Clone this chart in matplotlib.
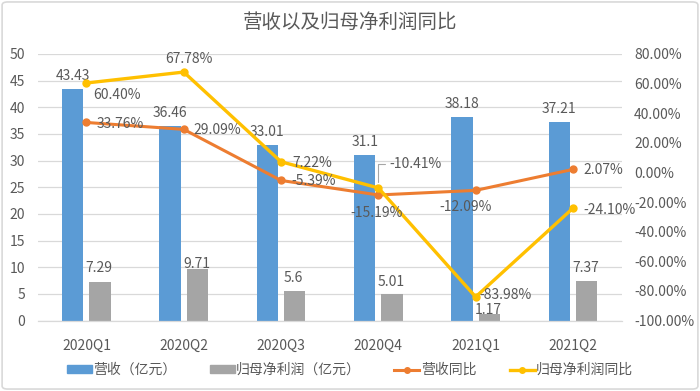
import matplotlib
matplotlib.use("Agg")
import matplotlib.pyplot as plt
from matplotlib.patches import FancyBboxPatch, Patch
from matplotlib.lines import Line2D
import numpy as np

plt.rcParams['font.family'] = ['Noto Sans CJK SC', 'DejaVu Sans']

# ---- data ----
categories = ['2020Q1', '2020Q2', '2020Q3', '2020Q4', '2021Q1', '2021Q2']
revenue = [43.43, 36.46, 33.01, 31.1, 38.18, 37.21]          # 营收（亿元）
net_profit = [7.29, 9.71, 5.6, 5.01, 1.17, 7.37]             # 归母净利润（亿元）
revenue_yoy = [33.76, 29.09, -5.39, -15.19, -12.09, 2.07]    # 营收同比 (%)
profit_yoy = [60.40, 67.78, 7.22, -10.41, -83.98, -24.10]    # 归母净利润同比 (%)
left_ticks = [0, 5, 10, 15, 20, 25, 30, 35, 40, 45, 50]
right_ticks = [-100, -80, -60, -40, -20, 0, 20, 40, 60, 80]

title = '营收以及归母净利润同比'
legend_labels = ['营收（亿元）', '归母净利润（亿元）', '营收同比', '归母净利润同比']

# ---- styles ----
C_BLUE = '#5B9BD5'
C_GRAY = '#A5A5A5'
C_ORANGE = '#ED7D31'
C_YELLOW = '#FFC000'
C_TEXT = '#595959'
C_GRID = '#D9D9D9'
FS = 10

# label offsets in pixels (dx, dy, ha)
gray_dy = [13.5, 5, 12.5, 12.3, 4, 13]
orange_off = [(10, -1.6, 'left'), (10, -0.7, 'left'), (10, -1, 'left'),
              (-1.6, -18.3, 'center'), (-10, -16.6, 'center'), (10, -1, 'left')]
yellow_off = [(6.5, -12, 'left'), (5, 12.7, 'center'), (11, -1, 'left'),
              (11, 24, 'left'), (4, 2, 'left'), (10, -1.7, 'left')]

fig = plt.figure(figsize=(7, 3.91), dpi=100)
ax = fig.add_axes([0.054, 0.18, 0.834, 0.682])
ax2 = ax.twinx()

x = np.arange(len(categories))
w = 0.22
off = 0.141
ax.bar(x - off, revenue, w, color=C_BLUE, zorder=2)
ax.bar(x + off, net_profit, w, color=C_GRAY, zorder=2)

ax.set_xlim(-0.5, len(categories) - 0.5)
ax.set_ylim(0, 50)
ax.set_yticks(left_ticks)
ax.set_yticklabels([str(t) for t in left_ticks])
ax.set_xticks(x)
ax.set_xticklabels(categories)
ax.grid(axis='y', color=C_GRID, lw=0.9, zorder=0)
ax.set_axisbelow(True)
for s in ['top', 'left', 'right']:
    ax.spines[s].set_visible(False)
ax.spines['bottom'].set_color(C_GRID)
ax.spines['bottom'].set_linewidth(0.9)
ax.tick_params(axis='both', length=0, colors=C_TEXT, labelsize=FS)
ax.tick_params(axis='y', pad=9)
ax.tick_params(axis='x', pad=13)

ax2.set_ylim(-100, 80)
ax2.set_yticks(right_ticks)
ax2.set_yticklabels([f'{t:.2f}%' for t in right_ticks])
for s in ['top', 'left', 'right', 'bottom']:
    ax2.spines[s].set_visible(False)
ax2.tick_params(axis='y', length=0, colors=C_TEXT, labelsize=FS, pad=9)

ax2.plot(x, revenue_yoy, color=C_ORANGE, lw=2.2, marker='o', ms=5, zorder=3)
ax2.plot(x, profit_yoy, color=C_YELLOW, lw=2.4, marker='o', ms=5, zorder=4)

# bar labels
for i in range(len(categories)):
    ax.annotate(f'{revenue[i]:g}', (x[i] - off, revenue[i]), xytext=(0, 13),
                textcoords='offset pixels', ha='center', va='center',
                fontsize=FS, color=C_TEXT)
    ax.annotate(f'{net_profit[i]:g}', (x[i] + off, net_profit[i]), xytext=(-1, gray_dy[i]),
                textcoords='offset pixels', ha='center', va='center',
                fontsize=FS, color=C_TEXT)

# line labels
for i in range(len(categories)):
    dx, dy, ha = orange_off[i]
    ax2.annotate(f'{revenue_yoy[i]:.2f}%', (x[i], revenue_yoy[i]), xytext=(dx, dy),
                 textcoords='offset pixels', ha=ha, va='center',
                 fontsize=FS, color=C_TEXT, zorder=6)
    dx, dy, ha = yellow_off[i]
    kw = {}
    if i == 3:
        kw['arrowprops'] = dict(arrowstyle='-', color='#A6A6A6', lw=0.8,
                                connectionstyle='angle,angleA=0,angleB=90,rad=0',
                                relpos=(0, 0.5), shrinkA=1, shrinkB=4)
    ax2.annotate(f'{profit_yoy[i]:.2f}%', (x[i], profit_yoy[i]), xytext=(dx, dy),
                 textcoords='offset pixels', ha=ha, va='center',
                 fontsize=FS, color=C_TEXT, zorder=6, **kw)

fig.suptitle(title, x=0.5, y=1 - 22 / 391, va='center', fontsize=14, color=C_TEXT)

handles = [Patch(color=C_BLUE), Patch(color=C_GRAY),
           Line2D([], [], color=C_ORANGE, lw=2.2, marker='o', ms=4),
           Line2D([], [], color=C_YELLOW, lw=2.4, marker='o', ms=4)]
leg = fig.legend(handles, legend_labels, loc='center', bbox_to_anchor=(0.5, 1 - 370 / 391),
                 ncol=4, frameon=False, fontsize=FS, handlelength=1.8, handleheight=0.5,
                 handletextpad=0.1, columnspacing=2.4)
for t in leg.get_texts():
    t.set_color(C_TEXT)

fig.patches.append(FancyBboxPatch((0.003, 0.005), 0.994, 0.99,
                                  boxstyle='round,pad=0,rounding_size=0.008',
                                  transform=fig.transFigure, fill=False,
                                  ec=C_GRID, lw=1.2))

fig.savefig('out.png', dpi=100)
